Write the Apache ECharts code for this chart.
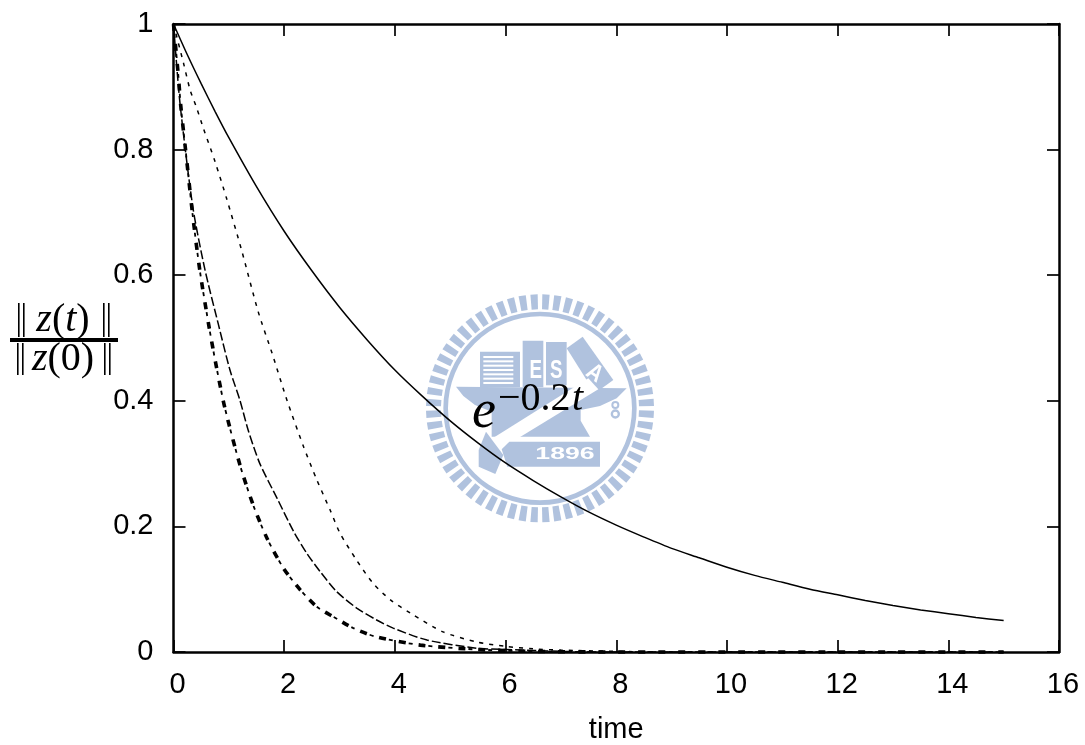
<!DOCTYPE html>
<html><head><meta charset="utf-8">
<style>html,body{margin:0;padding:0;background:#fff}#c{width:1085px;height:745px}</style>
<script src="https://cdn.jsdelivr.net/npm/echarts@6/dist/echarts.min.js"></script>
</head><body><div id="c"></div>
<script>
const solidT=[0,0.25,0.5,0.75,1,1.5,2,2.5,3,3.5,4,4.5,5,5.5,6,6.5,7,7.5,8,8.5,9,9.5,10,10.5,11,11.5,12,12.5,13,13.5,14,14.5,15];
const solidV=[1,0.951,0.905,0.861,0.819,0.741,0.670,0.607,0.549,0.497,0.449,0.407,0.368,0.333,0.301,0.273,0.247,0.223,0.202,0.183,0.165,0.150,0.135,0.122,0.111,0.100,0.091,0.082,0.074,0.067,0.061,0.055,0.050];
const dotT=[0,0.18,0.3,0.42,0.54,0.75,0.96,1.23,1.53,1.78,2.05,2.35,2.59,2.83,3.01,3.31,3.61,3.92,4.28,4.87,5.48,6,6.5,7,8,9,10,12,15];
const dotV=[1,0.938,0.895,0.866,0.834,0.781,0.722,0.64,0.542,0.476,0.401,0.327,0.274,0.226,0.189,0.146,0.109,0.083,0.062,0.032,0.016,0.009,0.005,0.003,0.001,0,0,0,0];
const dashT=[0,0.117,0.35,0.57,0.81,1.02,1.2,1.35,1.56,1.87,2.17,2.41,2.65,2.95,3.31,3.67,3.97,4.58,5.48,6,7,8,9,10,12,15];
const dashV=[1,0.874,0.708,0.608,0.522,0.449,0.401,0.353,0.30,0.245,0.192,0.157,0.128,0.096,0.07,0.051,0.038,0.019,0.006,0.004,0.001,0,0,0,0,0];
const dashDotT=[0,0.09,0.13,0.24,0.35,0.48,0.648,0.78,0.93,1.2,1.44,1.69,1.99,2.29,2.59,2.89,3.25,3.67,4.46,5.48,6.5,8,9,10,12,15];
const dashDotV=[1,0.915,0.871,0.782,0.693,0.605,0.515,0.452,0.388,0.298,0.234,0.181,0.133,0.099,0.072,0.056,0.038,0.024,0.011,0.004,0.001,0,0,0,0,0];
const xTicks={min:0,max:16,interval:2};
const yTicks={min:0,max:1,interval:0.2};
const zip=(a,b)=>a.map((t,i)=>[t,b[i]]);

const LOGO='#b0c2de';
const lp=(points,fill)=>({type:'polygon',shape:{points},style:{fill:fill||LOGO},silent:true});
const teeth=[];
for(let i=0;i<60;i++){
  const a=(i+0.5)/60*Math.PI*2,w=0.032,r0=297,r1=342,cx=360,cy=355;
  teeth.push(lp([[cx+r0*Math.cos(a-w),cy+r0*Math.sin(a-w)],[cx+r1*Math.cos(a-w),cy+r1*Math.sin(a-w)],[cx+r1*Math.cos(a+w),cy+r1*Math.sin(a+w)],[cx+r0*Math.cos(a+w),cy+r0*Math.sin(a+w)]]));
}
const stripes=[];
for(let i=0;i<7;i++)stripes.push({type:'rect',shape:{x:190,y:198+i*13,width:90,height:6},style:{fill:'#fff'},silent:true});
const txt=(x,y,s,size,sx,rot)=>({type:'text',x,y,scaleX:sx||1,rotation:rot||0,style:{text:s,fill:'#fff',font:'bold '+size+'px "Liberation Sans"',align:'center',verticalAlign:'middle'},silent:true});
const logoChildren=[
  ...teeth,
  {type:'ring',shape:{cx:360,cy:355,r:290,r0:276},style:{fill:LOGO},silent:true},
  lp([[108,290],[620,295],[590,325],[540,348],[482,360],[482,392],[510,440],[215,440],[215,365],[165,345],[130,318]]),
  {type:'rect',shape:{x:180,y:185,width:120,height:107},style:{fill:LOGO},silent:true},
  ...stripes,
  {type:'rect',shape:{x:308,y:152,width:62,height:140},style:{fill:LOGO},silent:true},
  {type:'rect',shape:{x:378,y:156,width:62,height:130},style:{fill:LOGO},silent:true},
  lp([[440,175],[488,140],[580,270],[525,310]]),
  lp([[505,265],[535,298],[250,472],[218,445]],'#fff'),
  lp([[245,478],[268,455],[540,455],[540,530],[262,530]]),
  lp([[176,480],[198,425],[250,495],[226,552],[176,530]]),
  txt(347,243,'E',78,0.72),txt(409,243,'S',78,0.72),
  txt(524,250,'A',72,0.85,-0.6),
  txt(435,492,'1896',50,1.6),
  {type:'ring',shape:{cx:586,cy:345,r:12,r0:6},style:{fill:LOGO},silent:true},
  {type:'ring',shape:{cx:586,cy:372,r:14,r0:7},style:{fill:LOGO},silent:true}
];

const chart=echarts.init(document.getElementById('c'),null,{renderer:'canvas'});
const axisBase={axisLine:{onZero:false,lineStyle:{color:'#000',width:2.5}},splitLine:{show:false},
  axisTick:{inside:true,length:12,lineStyle:{color:'#000',width:1.7}}};
const lbl={color:'#000',fontFamily:'Liberation Sans',fontSize:29};
const line=(name,t,v,width,dash,off)=>({name,type:'line',data:zip(t,v),smooth:0.25,symbol:'none',clip:false,z:3,
  lineStyle:{color:'#000',width,type:dash,dashOffset:off||0,cap:'butt'}});
const bar=(x,y,h)=>({type:'rect',shape:{x,y,width:1.6,height:h},z:10,style:{fill:'#000'}});
const mathRich={i:{font:'italic 40px "Liberation Serif"',fill:'#000'},r:{font:'40px "Liberation Serif"',fill:'#000'}};
chart.setOption({
  animation:false,backgroundColor:'#fff',
  grid:{left:173.5,right:26,top:24,bottom:93,outerBoundsMode:'none'},
  xAxis:[
    Object.assign({type:'value',position:'bottom',...xTicks,name:'time',nameLocation:'middle',nameGap:63,
      nameTextStyle:Object.assign({},lbl),
      axisLabel:Object.assign({margin:18,padding:[0,0,0,8]},lbl)},axisBase),
    Object.assign({type:'value',position:'top',...xTicks,axisLabel:{show:false}},axisBase)
  ],
  yAxis:[
    Object.assign({type:'value',position:'left',...yTicks,axisLabel:Object.assign({margin:20},lbl)},axisBase),
    Object.assign({type:'value',position:'right',...yTicks,axisLabel:{show:false}},axisBase)
  ],
  series:[
    line('e^-0.2t',solidT,solidV,1.5,'solid'),
    line('dotted',dotT,dotV,1.5,[4,6]),
    line('dashed',dashT,dashV,1.5,[9,3]),
    line('dash-dot',dashDotT,dashDotV,3.6,[7,13]),
    line('dash-dot 2',dashDotT,dashDotV,1.8,[4,16],-10)
  ],
  graphic:{elements:[
    {type:'group',x:420,y:290,scaleX:1/3,scaleY:1/3,z:0,silent:true,children:logoChildren},
    {type:'text',x:472,y:413,z:10,style:{text:'e',fill:'#000',font:'italic 54px "Liberation Serif"',verticalAlign:'middle'}},
    {type:'text',x:498,y:399,z:10,style:{text:'−0.2',fill:'#000',font:'40px "Liberation Serif"',verticalAlign:'middle'}},
    {type:'text',x:572,y:399,z:10,style:{text:'t',fill:'#000',font:'italic 40px "Liberation Serif"',verticalAlign:'middle'}},
    {type:'text',x:63,y:320,z:10,style:{text:'{i|z}{r|(}{i|t}{r|)}',rich:mathRich,align:'center',verticalAlign:'middle'}},
    bar(18,303,34),bar(23,303,34),bar(103,303,34),bar(108,303,34),
    {type:'rect',shape:{x:10,y:338,width:108,height:4},z:10,style:{fill:'#000'}},
    {type:'text',x:63,y:359,z:10,style:{text:'{i|z}{r|(0)}',rich:mathRich,align:'center',verticalAlign:'middle'}},
    bar(17,343,32),bar(22,343,32),bar(104,343,32),bar(109,343,32)
  ]}
});
</script></body></html>
